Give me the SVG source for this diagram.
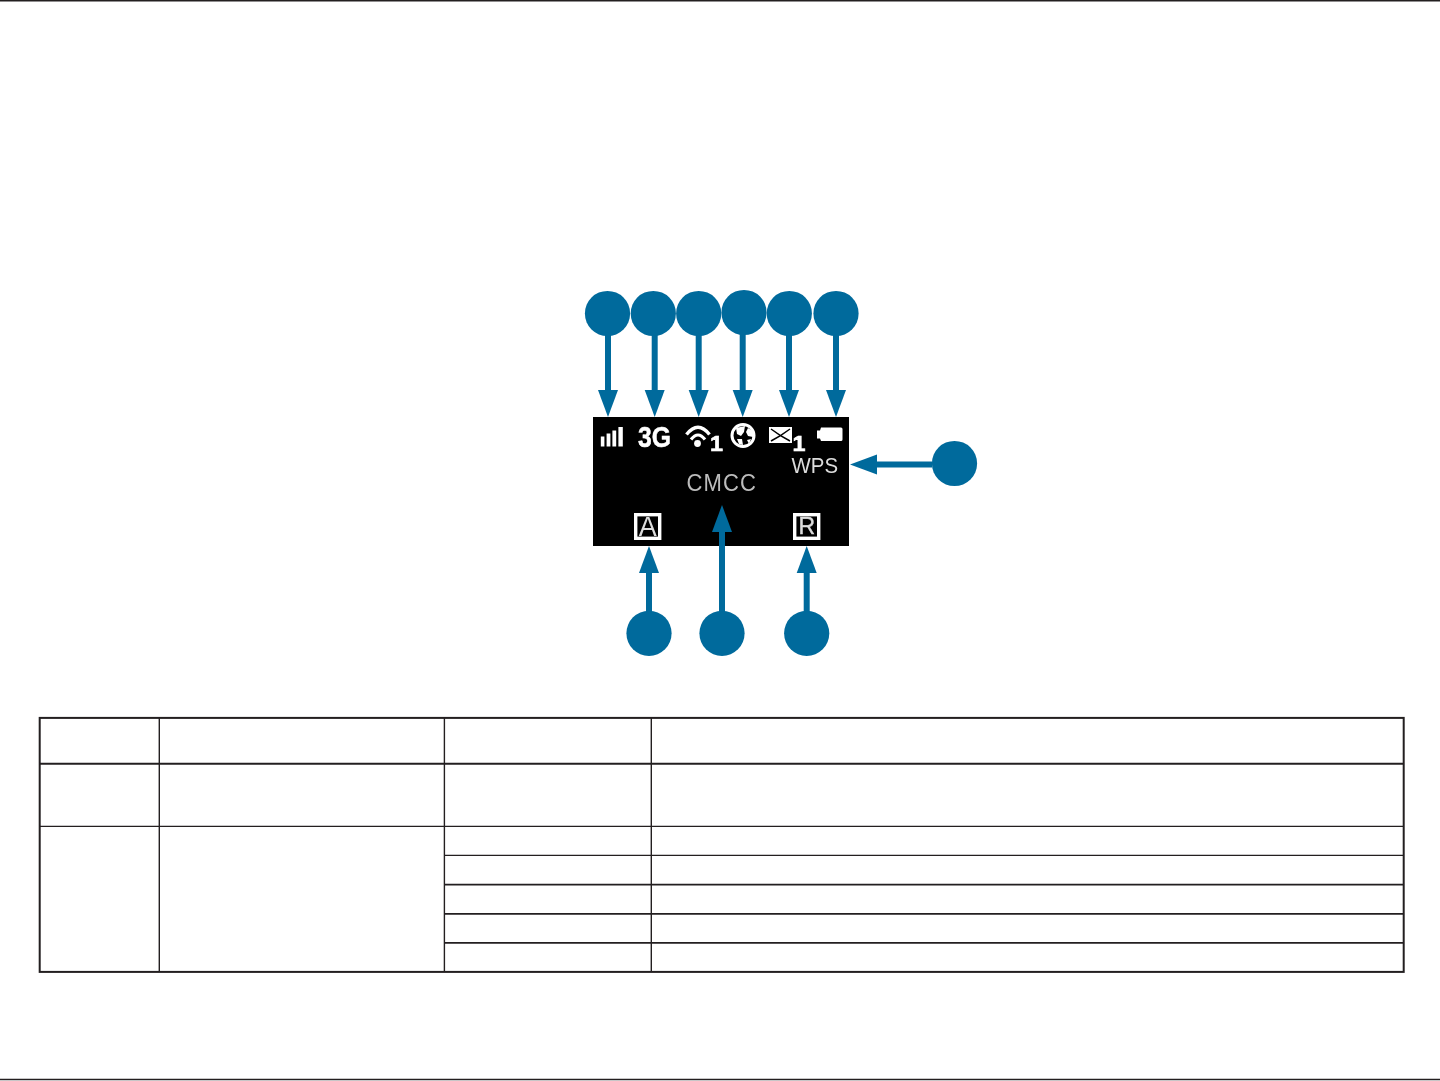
<svg xmlns="http://www.w3.org/2000/svg" width="1440" height="1081" viewBox="0 0 1440 1081">
<style>
.callout{fill:#006a9c}
.conn{stroke:#006a9c;stroke-width:6;fill:none;marker-end:url(#arrow)}
.rule{stroke:#231f20;fill:none}
.w{fill:#fff}
.ws{fill:none;stroke:#fff}
.t{font-family:"Liberation Sans",Arial,sans-serif}
.b{font-weight:700;fill:#fff}
.g{fill:#dcdcdc}
</style>
<defs>
<marker id="arrow" markerUnits="userSpaceOnUse" markerWidth="27" markerHeight="20" refX="0" refY="10" orient="auto" overflow="visible"><path d="M0 0L27 10L0 20z" fill="#006a9c"/></marker>
<filter id="soft" x="-5%" y="-5%" width="110%" height="110%"><feGaussianBlur stdDeviation="0.5"/></filter>
</defs>
<rect width="1440" height="1081" fill="#fff"/>
<g id="page-rules">
<line class="rule" x1="0" y1="0.8" x2="1440" y2="0.8" stroke-width="1.6"/>
<line class="rule" x1="0" y1="1079.5" x2="1440" y2="1079.5" stroke-width="1.6"/>
</g>
<g id="screen">
<rect x="593" y="417" width="256" height="129" fill="#000"/>
<g filter="url(#soft)">
<g id="icon-signal" class="w"><rect x="600.8" y="436.5" width="3.6" height="10"/><rect x="606.6" y="433.5" width="3.8" height="13"/><rect x="612.4" y="430.5" width="3.8" height="16"/><rect x="618.4" y="427" width="4.4" height="19.5"/></g>
<text id="icon-3g" class="t b" x="638" y="447" font-size="29" stroke="#fff" stroke-width="0.5" textLength="33" lengthAdjust="spacingAndGlyphs">3G</text>
<g id="icon-wifi">
<path class="ws" stroke-width="3.4" d="M686.5 434.5Q698 420 709.5 434.5"/>
<path class="ws" stroke-width="3.2" d="M691 439.5Q698 430.5 705 439.5"/>
<circle class="w" cx="697.5" cy="443.5" r="3.4"/>
<text class="t b" x="710" y="450.5" font-size="22" stroke="#fff" stroke-width="0.6" textLength="13" lengthAdjust="spacingAndGlyphs">1</text>
</g>
<g id="icon-globe">
<circle class="ws" cx="743" cy="435.5" r="11" stroke-width="3"/>
<path class="w" d="M736 428L745 426L744 432L741 436L737 434zM748 428L753 431L753 437L748 436L746 432zM737 439L742 439L743 445L739 444zM747 440L751 439L749 444z"/>
</g>
<g id="icon-mail">
<rect class="w" x="769" y="427" width="23" height="16"/>
<path d="M771 429L780.5 435.5L790 429M771 441L780.5 435.5L790 441" fill="none" stroke="#000" stroke-width="1.5"/>
<text class="t b" x="792.5" y="450.5" font-size="22" stroke="#fff" stroke-width="0.6" textLength="13" lengthAdjust="spacingAndGlyphs">1</text>
</g>
<path id="icon-battery" class="w" d="M821 427.5H841Q842.5 427.5 842.5 429V439.5Q842.5 441 841 441H821L820 438.5H817V430.5H820z"/>
<text id="label-wps" class="t g" x="791.5" y="472.5" font-size="22" textLength="46.5" lengthAdjust="spacingAndGlyphs">WPS</text>
<text id="label-cmcc" class="t" fill="#bcbcbc" transform="translate(686.5 491) scale(.9 1)" font-size="24.5" textLength="77" lengthAdjust="spacing">CMCC</text>
<g id="icon-a">
<rect class="ws" x="635.7" y="514.7" width="24" height="23.6" stroke-width="3.4"/>
<text class="t g" x="647.7" y="536" font-size="27" text-anchor="middle">A</text>
</g>
<g id="icon-r">
<rect class="ws" x="794.7" y="514.7" width="24" height="23.6" stroke-width="3.4"/>
<text class="t g" x="806.7" y="533.5" font-size="23" text-anchor="middle" stroke="#dcdcdc" stroke-width="0.4">R</text>
</g>
</g>
</g>
<g id="connectors">
<line class="conn" x1="608" y1="335" x2="608" y2="390"/>
<line class="conn" x1="654.7" y1="335" x2="654.7" y2="390"/>
<line class="conn" x1="698.7" y1="335" x2="698.7" y2="390"/>
<line class="conn" x1="742.7" y1="334" x2="742.7" y2="390"/>
<line class="conn" x1="789" y1="335" x2="789" y2="390"/>
<line class="conn" x1="836" y1="335" x2="836" y2="390"/>
<line class="conn" x1="932" y1="464.5" x2="877" y2="464.5"/>
<line class="conn" x1="649" y1="612" x2="649" y2="573"/>
<line class="conn" x1="722" y1="612" x2="722" y2="532"/>
<line class="conn" x1="806.7" y1="612" x2="806.7" y2="573"/>
</g>
<g id="callout-1"><circle class="callout" cx="607.5" cy="313.5" r="22.6"/></g>
<g id="callout-2"><circle class="callout" cx="653.3" cy="313.5" r="22.6"/></g>
<g id="callout-3"><circle class="callout" cx="698.7" cy="313.5" r="22.6"/></g>
<g id="callout-4"><circle class="callout" cx="744" cy="312.5" r="22.6"/></g>
<g id="callout-5"><circle class="callout" cx="789.3" cy="313.5" r="22.6"/></g>
<g id="callout-6"><circle class="callout" cx="836" cy="313.5" r="22.6"/></g>
<g id="callout-7"><circle class="callout" cx="954.5" cy="463.5" r="22.6"/></g>
<g id="callout-8"><circle class="callout" cx="649" cy="633.3" r="22.6"/></g>
<g id="callout-9"><circle class="callout" cx="722" cy="633.3" r="22.6"/></g>
<g id="callout-10"><circle class="callout" cx="806.7" cy="633.3" r="22.6"/></g>
<g id="table">
<rect class="rule" x="39.7" y="717.9" width="1364" height="254" stroke-width="2"/>
<line class="rule" x1="39" y1="763.8" x2="1404" y2="763.8" stroke-width="2"/>
<line class="rule" x1="39" y1="826.4" x2="1404" y2="826.4" stroke-width="1.4"/>
<line class="rule" x1="444" y1="855.4" x2="1404" y2="855.4" stroke-width="1.2"/>
<line class="rule" x1="444" y1="884.7" x2="1404" y2="884.7" stroke-width="1.8"/>
<line class="rule" x1="444" y1="913.8" x2="1404" y2="913.8" stroke-width="1.8"/>
<line class="rule" x1="444" y1="942.9" x2="1404" y2="942.9" stroke-width="1.8"/>
<line class="rule" x1="159.3" y1="718" x2="159.3" y2="972" stroke-width="1.4"/>
<line class="rule" x1="444.4" y1="718" x2="444.4" y2="972" stroke-width="1.4"/>
<line class="rule" x1="651.3" y1="718" x2="651.3" y2="972" stroke-width="1.4"/>
</g>
</svg>
